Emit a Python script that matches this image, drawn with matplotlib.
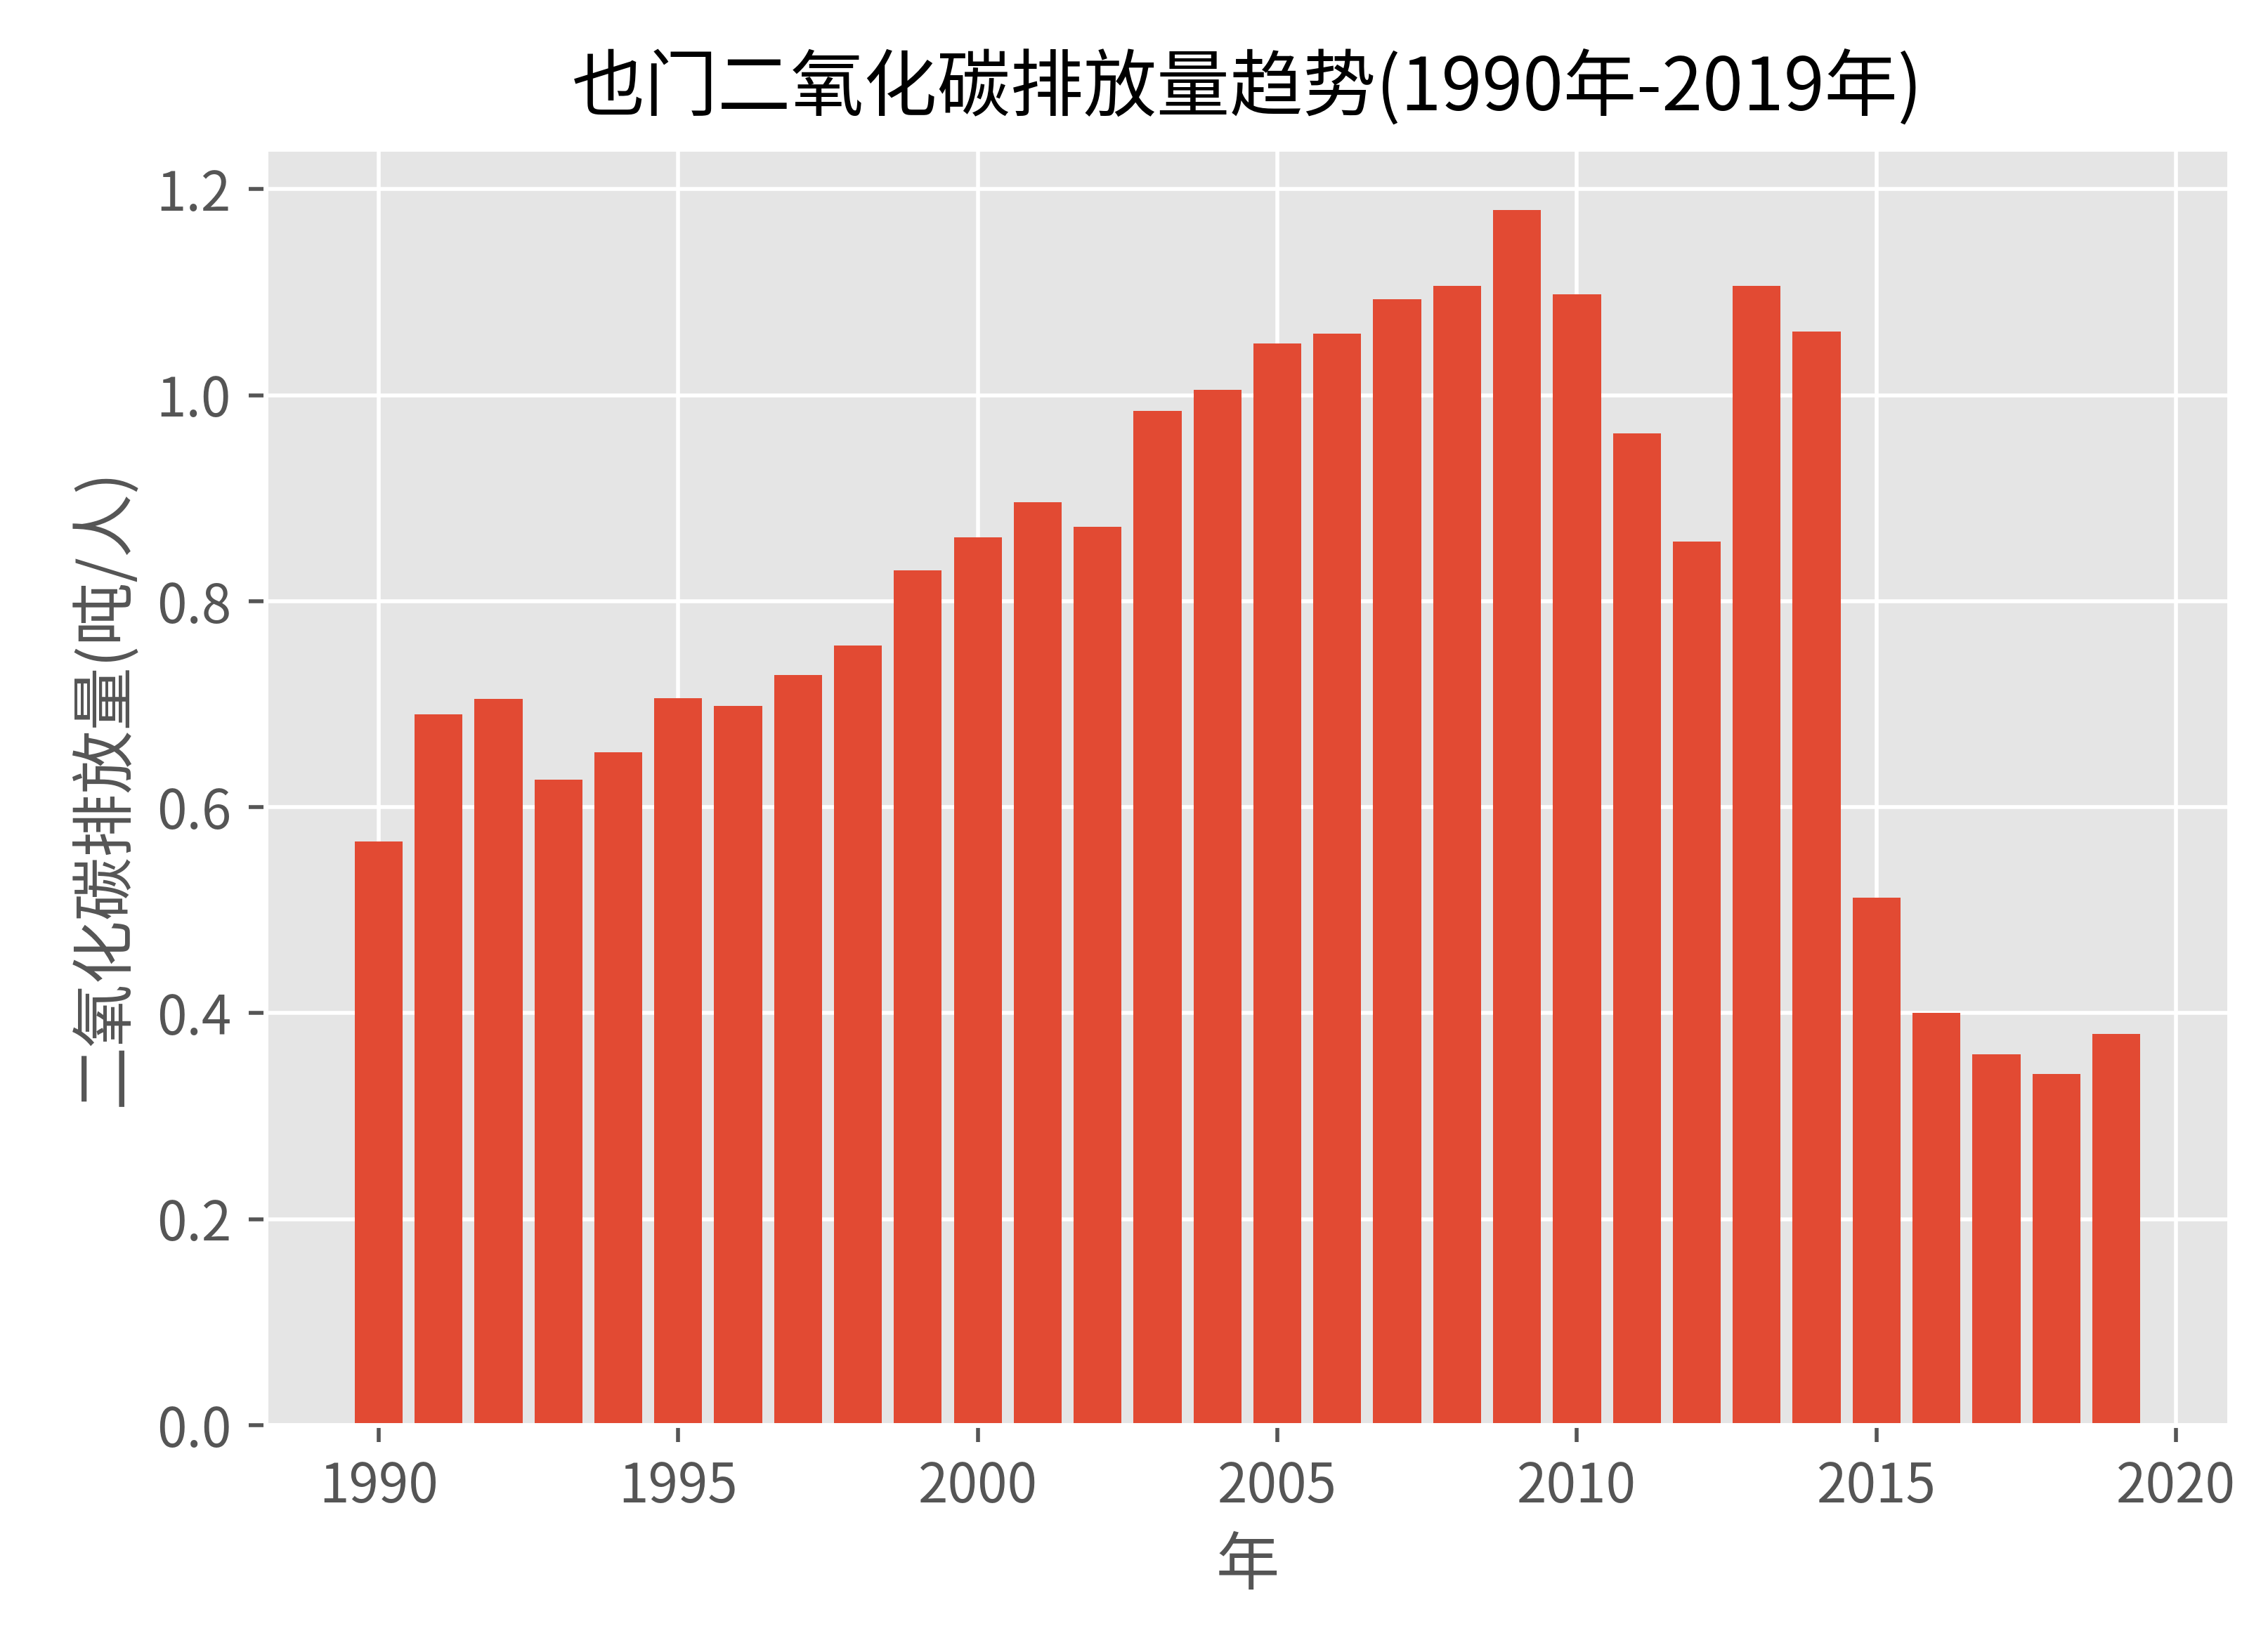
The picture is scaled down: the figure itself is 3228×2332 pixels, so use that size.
import matplotlib
matplotlib.use("Agg")
import matplotlib.pyplot as plt

plt.style.use("ggplot")
plt.rcParams["font.family"] = ["Noto Sans CJK SC", "DejaVu Sans"]
plt.rcParams["axes.unicode_minus"] = False

years = list(range(1990, 2020))
values = [0.567, 0.690, 0.705, 0.627, 0.653, 0.706, 0.698, 0.728, 0.757, 0.830,
          0.862, 0.896, 0.872, 0.985, 1.005, 1.050, 1.060, 1.093, 1.106, 1.180,
          1.098, 0.963, 0.858, 1.106, 1.062, 0.512, 0.400, 0.360, 0.341, 0.380]

fig = plt.figure(figsize=(6.456, 4.664), dpi=500)
ax = fig.add_axes([0.117, 0.130, 0.866, 0.779])
ax.bar(years, values, color="#E24A33")
ax.set_title("也门二氧化碳排放量趋势(1990年-2019年)", fontsize=15, pad=8)
ax.set_xlabel("年", fontsize=13)
ax.set_ylabel("二氧化碳排放量(吨/人)", fontsize=13)
ax.tick_params(labelsize=11)
fig.savefig("out.png", dpi=500)
